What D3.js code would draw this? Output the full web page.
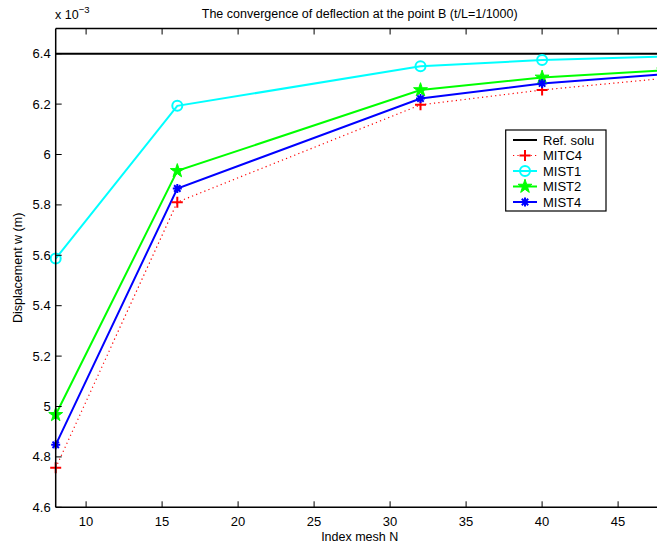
<!DOCTYPE html>
<html><head><meta charset="utf-8">
<script src="https://cdn.jsdelivr.net/npm/d3@7"></script>
<style>
body{margin:0;background:#fff;}
svg{display:block;font-family:"Liberation Sans",Arial,sans-serif;}
</style></head>
<body><svg id="c" width="657" height="546"></svg>
<script>
const meshN = [8, 16, 32, 40, 48];
const refSolu = [6.4, 6.4, 6.4, 6.4, 6.4];
const mitc4 = [4.757, 5.811, 6.197, 6.256, 6.302];
const mist1 = [5.587, 6.193, 6.350, 6.375, 6.389];
const mist2 = [4.967, 5.935, 6.256, 6.306, 6.334];
const mist4 = [4.848, 5.865, 6.222, 6.282, 6.318];
const xTicks = [10, 15, 20, 25, 30, 35, 40, 45];
const yTicks = [4.6, 4.8, 5, 5.2, 5.4, 5.6, 5.8, 6, 6.2, 6.4];
const seriesNames = ["Ref. solu", "MITC4", "MIST1", "MIST2", "MIST4"];

const svg = d3.select("#c");
const L = 55.7, R = 663.7, T = 28.5, B = 507.3;
const x = d3.scaleLinear().domain([8, 48]).range([L, R]);
const y = d3.scaleLinear().domain([4.6, 6.5]).range([B, T]);

const series = [
  {name: seriesNames[0], v: refSolu, color: "#000000", dash: null, marker: null, w: 2},
  {name: seriesNames[1], v: mitc4, color: "#ff0000", dash: "1.2,3.2", marker: "plus", w: 1.2},
  {name: seriesNames[2], v: mist1, color: "#00ffff", dash: null, marker: "circle", w: 2},
  {name: seriesNames[3], v: mist2, color: "#00ff00", dash: null, marker: "star", w: 2},
  {name: seriesNames[4], v: mist4, color: "#0000ff", dash: null, marker: "asterisk", w: 2}
];

function drawMarker(g, type, cx, cy, color) {
  if (type === "plus") {
    const s = 5.5;
    g.append("path").attr("d", `M${cx-s},${cy}H${cx+s}M${cx},${cy-s}V${cy+s}`)
      .attr("stroke", color).attr("stroke-width", 2).attr("fill", "none");
  } else if (type === "circle") {
    g.append("circle").attr("cx", cx).attr("cy", cy).attr("r", 5)
      .attr("stroke", color).attr("stroke-width", 2).attr("fill", "none");
  } else if (type === "star") {
    g.append("path").attr("d", d3.symbol().type(d3.symbolStar).size(60)())
      .attr("transform", `translate(${cx},${cy})`)
      .attr("fill", color).attr("stroke", color).attr("stroke-width", 1);
  } else if (type === "asterisk") {
    const s = 4.5, d = 3.2;
    g.append("path").attr("d", `M${cx-s},${cy}H${cx+s}M${cx},${cy-s}V${cy+s}M${cx-d},${cy-d}L${cx+d},${cy+d}M${cx-d},${cy+d}L${cx+d},${cy-d}`)
      .attr("stroke", color).attr("stroke-width", 2).attr("fill", "none");
  }
}

// Axes box lines & ticks
const ax = svg.append("g");
const tickLen = 6;
xTicks.forEach(t => {
  ax.append("line").attr("x1", x(t)).attr("x2", x(t)).attr("y1", B).attr("y2", B - tickLen).attr("stroke", "#000").attr("stroke-width", 1);
  ax.append("line").attr("x1", x(t)).attr("x2", x(t)).attr("y1", T).attr("y2", T + tickLen).attr("stroke", "#000").attr("stroke-width", 1);
  ax.append("text").attr("x", x(t)).attr("y", B + 19).attr("text-anchor", "middle").attr("font-size", 13).text(t);
});
yTicks.forEach(t => {
  ax.append("line").attr("x1", L).attr("x2", L + tickLen).attr("y1", y(t)).attr("y2", y(t)).attr("stroke", "#000").attr("stroke-width", 1);
  ax.append("line").attr("x1", R).attr("x2", R - tickLen).attr("y1", y(t)).attr("y2", y(t)).attr("stroke", "#000").attr("stroke-width", 1);
  ax.append("text").attr("x", L - 5).attr("y", y(t) + 4.5).attr("text-anchor", "end").attr("font-size", 13).text(d3.format("~g")(t));
});

// Plot lines
const plot = svg.append("g");
series.forEach(s => {
  const pts = meshN.map((n, i) => [x(n), y(s.v[i])]);
  const p = plot.append("path").attr("d", d3.line()(pts))
    .attr("fill", "none").attr("stroke", s.color).attr("stroke-width", s.w);
  if (s.dash) p.attr("stroke-dasharray", s.dash);
});
series.forEach(s => {
  if (!s.marker) return;
  meshN.forEach((n, i) => drawMarker(plot, s.marker, x(n), y(s.v[i]), s.color));
});

// Box
ax.raise();
ax.append("line").attr("x1", L).attr("x2", R).attr("y1", B).attr("y2", B).attr("stroke", "#000").attr("stroke-width", 1.5);
ax.append("line").attr("x1", L).attr("x2", R).attr("y1", T).attr("y2", T).attr("stroke", "#000").attr("stroke-width", 1.5);
ax.append("line").attr("x1", L).attr("x2", L).attr("y1", T).attr("y2", B).attr("stroke", "#000").attr("stroke-width", 1.5);

// Title / labels
svg.append("text").attr("x", (L + R) / 2).attr("y", 18).attr("text-anchor", "middle").attr("font-size", 12.5)
  .text("The convergence of deflection at the point B (t/L=1/1000)");
const sc = svg.append("text").attr("x", 55).attr("y", 19).attr("font-size", 12.5);
sc.append("tspan").text("x 10");
sc.append("tspan").attr("dy", -6).attr("font-size", 9.5).text("\u22123");
svg.append("text").attr("x", (L + R) / 2).attr("y", 541).attr("text-anchor", "middle").attr("font-size", 12.5).text("Index mesh N");
svg.append("text").attr("transform", `translate(22,${(T + B) / 2}) rotate(-90)`).attr("text-anchor", "middle").attr("font-size", 12.5).text("Displacement w (m)");

// Legend
const lg = svg.append("g");
lg.append("rect").attr("x", 505.7).attr("y", 130).attr("width", 100.3).attr("height", 81)
  .attr("fill", "#fff").attr("stroke", "#000").attr("stroke-width", 1.2);
series.forEach((s, i) => {
  const yy = 140 + i * 15.5;
  const l = lg.append("line").attr("x1", 513).attr("x2", 537).attr("y1", yy).attr("y2", yy)
    .attr("stroke", s.color).attr("stroke-width", s.w);
  if (s.dash) l.attr("stroke-dasharray", s.dash);
  if (s.marker) drawMarker(lg, s.marker, 525, yy, s.color);
  lg.append("text").attr("x", 543).attr("y", yy + 4.5).attr("font-size", 13).text(s.name);
});
</script></body></html>
